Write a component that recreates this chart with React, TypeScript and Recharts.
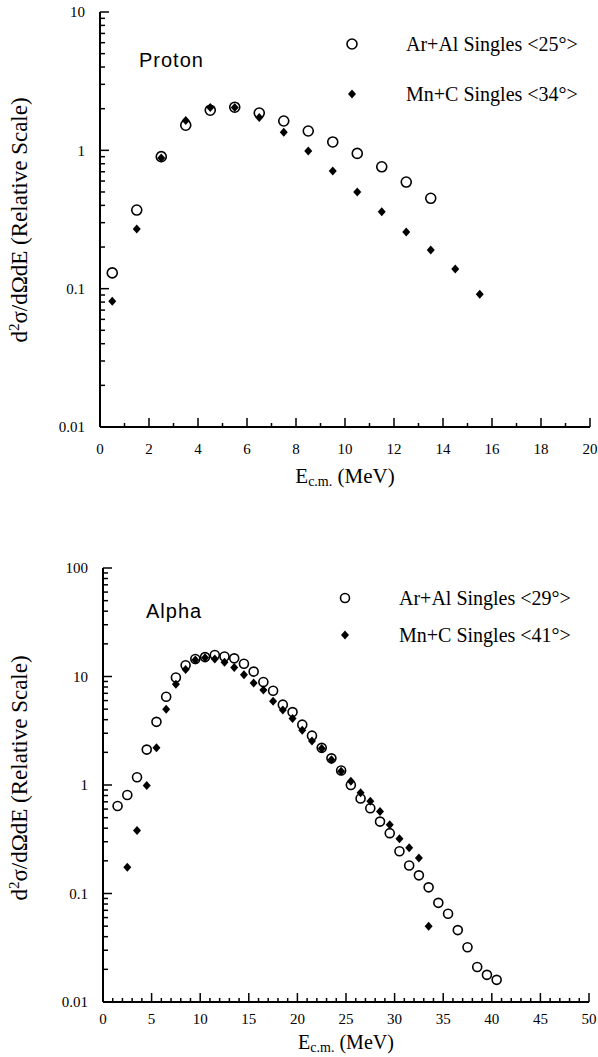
import React from 'react';
import { ScatterChart, Scatter, XAxis, YAxis } from 'recharts';

// Proton panel (top)
const protonEnergyArAl = [0.5, 1.5, 2.5, 3.5, 4.5, 5.5, 6.5, 7.5, 8.5, 9.5, 10.5, 11.5, 12.5, 13.5];
const protonArAl = [0.13, 0.37, 0.9, 1.52, 1.95, 2.05, 1.86, 1.63, 1.38, 1.15, 0.95, 0.76, 0.59, 0.45];
const protonEnergyMnC = [0.5, 1.5, 2.5, 3.5, 4.5, 5.5, 6.5, 7.5, 8.5, 9.5, 10.5, 11.5, 12.5, 13.5, 14.5, 15.5];
const protonMnC = [0.081, 0.27, 0.88, 1.64, 2.04, 2.04, 1.73, 1.35, 0.99, 0.71, 0.5, 0.36, 0.257, 0.19, 0.139, 0.091];

// Alpha panel (bottom)
const alphaEnergyArAl = [
  1.5, 2.5, 3.5, 4.5, 5.5, 6.5, 7.5, 8.5, 9.5, 10.5, 11.5, 12.5, 13.5, 14.5, 15.5, 16.5, 17.5, 18.5, 19.5, 20.5,
  21.5, 22.5, 23.5, 24.5, 25.5, 26.5, 27.5, 28.5, 29.5, 30.5, 31.5, 32.5, 33.5, 34.5, 35.5, 36.5, 37.5, 38.5, 39.5, 40.5,
];
const alphaArAl = [
  0.64, 0.81, 1.18, 2.12, 3.82, 6.5, 9.8, 12.7, 14.5, 15.1, 15.8, 15.3, 14.7, 13.1, 11.1, 8.9, 7.4, 5.5, 4.7, 3.6,
  2.85, 2.2, 1.76, 1.36, 1.0, 0.75, 0.61, 0.46, 0.36, 0.245, 0.181, 0.147, 0.114, 0.082, 0.065, 0.046, 0.032, 0.021, 0.0178, 0.016,
];
const alphaEnergyMnC = [
  2.5, 3.5, 4.5, 5.5, 6.5, 7.5, 8.5, 9.5, 10.5, 11.5, 12.5, 13.5, 14.5, 15.5, 16.5, 17.5, 18.5, 19.5, 20.5, 21.5,
  22.5, 23.5, 24.5, 25.5, 26.5, 27.5, 28.5, 29.5, 30.5, 31.5, 32.5, 33.5,
];
const alphaMnC = [
  0.175, 0.38, 0.99, 2.2, 5.0, 8.5, 11.6, 14.2, 14.9, 14.5, 13.5, 12.1, 10.4, 8.7, 7.5, 5.9, 4.9, 4.1, 3.2, 2.55,
  2.17, 1.71, 1.34, 1.08, 0.85, 0.71, 0.57, 0.43, 0.32, 0.264, 0.212, 0.05,
];

// axis ticks
const protonXTicks = [0, 1, 2, 3, 4, 5, 6, 7, 8, 9, 10, 11, 12, 13, 14, 15, 16, 17, 18, 19, 20];
const protonXLabels = [0, 2, 4, 6, 8, 10, 12, 14, 16, 18, 20];
const alphaXTicks = [
  0, 1, 2, 3, 4, 5, 6, 7, 8, 9, 10, 11, 12, 13, 14, 15, 16, 17, 18, 19, 20, 21, 22, 23, 24, 25,
  26, 27, 28, 29, 30, 31, 32, 33, 34, 35, 36, 37, 38, 39, 40, 41, 42, 43, 44, 45, 46, 47, 48, 49, 50,
];
const alphaXLabels = [0, 5, 10, 15, 20, 25, 30, 35, 40, 45, 50];
const protonDecades = [0.01, 0.1, 1, 10];
const alphaDecades = [0.01, 0.1, 1, 10, 100];
const minorSteps = [2, 3, 4, 5, 6, 7, 8, 9];

const SERIF = '"Liberation Serif", "Times New Roman", Times, serif';
const SANS = '"Liberation Sans", Arial, Helvetica, sans-serif';
const MINOR = 4;
const MAJOR = 9;
const Y_GAP = 15;

const logTicks = (decades: number[]) =>
  decades.flatMap((d, i) =>
    i < decades.length - 1 ? [d, ...minorSteps.map((m) => +(d * m).toPrecision(3))] : [d]
  );

const toPoints = (xs: number[], ys: number[]) => xs.map((e, i) => ({ e, v: ys[i] }));

const openCircle = (r: number) => (p: any) =>
  <circle cx={p.cx} cy={p.cy} r={r} fill="none" stroke="#000" strokeWidth={1.6} />;

const diamond = (w: number, h: number) => (p: any) =>
  <polygon
    points={`${p.cx},${p.cy - h / 2} ${p.cx + w / 2},${p.cy} ${p.cx},${p.cy + h / 2} ${p.cx - w / 2},${p.cy}`}
    fill="#000"
  />;

// ticks point into the plot, majors longer
const xTick = (labels: number[], side: 'bottom' | 'top', gap: number) => (p: any) => {
  const v = p.payload.value;
  const major = labels.includes(v);
  const len = major ? MAJOR : MINOR;
  if (side === 'top') {
    return <line x1={p.x} x2={p.x} y1={p.y} y2={p.y + len} stroke="#000" strokeWidth={1.5} />;
  }
  const axisY = p.y - gap;
  return (
    <g>
      <line x1={p.x} x2={p.x} y1={axisY} y2={axisY - len} stroke="#000" strokeWidth={1.5} />
      {major && (
        <text x={p.x} y={p.y} dy="0.35em" textAnchor="middle" fontFamily={SERIF} fontSize={15} fill="#000">
          {v}
        </text>
      )}
    </g>
  );
};

const yTick = (decades: number[], side: 'left' | 'right') => (p: any) => {
  const v = p.payload.value;
  const major = decades.includes(v);
  const len = major ? MAJOR : MINOR + 1;
  if (side === 'right') {
    return <line x1={p.x} x2={p.x - len} y1={p.y} y2={p.y} stroke="#000" strokeWidth={1.5} />;
  }
  const axisX = p.x + Y_GAP;
  return (
    <g>
      <line x1={axisX} x2={axisX + len} y1={p.y} y2={p.y} stroke="#000" strokeWidth={1.5} />
      {major && (
        <text x={p.x} y={p.y} dy="0.35em" textAnchor="end" fontFamily={SERIF} fontSize={15} fill="#000">
          {String(v)}
        </text>
      )}
    </g>
  );
};

const xTitle = (offset: number, size: number) => (p: any) => {
  const vb = p.viewBox;
  return (
    <text x={vb.x + vb.width / 2} y={vb.y + offset} textAnchor="middle" fontFamily={SERIF} fontSize={size} fill="#000">
      E<tspan fontSize={14} dy={3}>c.m.</tspan>
      <tspan dy={-3}> (MeV)</tspan>
    </text>
  );
};

const yTitle = (centerY: number) => () => (
  <text
    x={27}
    y={centerY}
    transform={`rotate(-90 27 ${centerY})`}
    textAnchor="middle"
    fontFamily={SERIF}
    fontSize={23}
    fill="#000"
  >
    d<tspan fontSize={15} dy={-8}>2</tspan>
    <tspan dy={8}>σ/dΩdE (Relative Scale)</tspan>
  </text>
);

interface PanelProps {
  top: number;
  height: number;
  plotLeft: number;
  plotRight: number;
  plotTop: number;
  plotBottom: number;
  labelGap: number;
  titleOffset: number;
  titleSize: number;
  titleCenterY: number;
  xMax: number;
  xTicks: number[];
  xLabels: number[];
  decades: number[];
  circles: { e: number; v: number }[];
  diamonds: { e: number; v: number }[];
  circleR: number;
  name: string;
  nameLeft: number;
  nameY: number;
  legendNames: string[];
  legendLeft: number;
  legendTop: number;
  legendRow: number;
}

const Panel: React.FC<PanelProps> = (props) => {
  const { top, height, plotLeft, plotRight, plotTop, plotBottom, decades, labelGap } = props;
  const yTicks = logTicks(decades);
  const yDomain = [decades[0], decades[decades.length - 1]];
  const xAxisH = 40;
  const axisLine = { stroke: '#000', strokeWidth: 2 };
  return (
    <div style={{ position: 'absolute', left: 0, top, width: 598, height }}>
      <ScatterChart
        width={598}
        height={height}
        margin={{ top: plotTop, right: 598 - plotRight, bottom: height - plotBottom - xAxisH, left: 0 }}
      >
        <XAxis
          xAxisId="bottom"
          dataKey="e"
          type="number"
          domain={[0, props.xMax]}
          ticks={props.xTicks}
          interval={0}
          height={xAxisH}
          stroke="#000"
          tickSize={0}
          tickMargin={labelGap}
          tickLine={false}
          axisLine={axisLine}
          tick={xTick(props.xLabels, 'bottom', labelGap)}
          label={xTitle(props.titleOffset, props.titleSize)}
        />
        <XAxis
          xAxisId="top"
          orientation="top"
          dataKey="e"
          type="number"
          domain={[0, props.xMax]}
          ticks={props.xTicks}
          interval={0}
          height={0}
          stroke="#000"
          tickSize={0}
          tickMargin={0}
          tickLine={false}
          axisLine={axisLine}
          tick={xTick(props.xLabels, 'top', 0)}
        />
        <YAxis
          yAxisId="left"
          dataKey="v"
          type="number"
          scale="log"
          domain={yDomain}
          allowDataOverflow
          ticks={yTicks}
          interval={0}
          width={plotLeft}
          stroke="#000"
          tickSize={0}
          tickMargin={Y_GAP}
          tickLine={false}
          axisLine={axisLine}
          tick={yTick(decades, 'left')}
          label={yTitle(props.titleCenterY)}
        />
        <YAxis
          yAxisId="right"
          orientation="right"
          dataKey="v"
          type="number"
          scale="log"
          domain={yDomain}
          allowDataOverflow
          ticks={yTicks}
          interval={0}
          width={0}
          stroke="#000"
          tickSize={0}
          tickMargin={0}
          tickLine={false}
          axisLine={axisLine}
          tick={yTick(decades, 'right')}
        />
        <Scatter
          xAxisId="top"
          yAxisId="right"
          data={props.circles}
          shape={() => <g />}
          legendType="none"
          isAnimationActive={false}
        />
        <Scatter
          name={props.legendNames[0]}
          xAxisId="bottom"
          yAxisId="left"
          data={props.circles}
          shape={openCircle(props.circleR)}
          isAnimationActive={false}
        />
        <Scatter
          name={props.legendNames[1]}
          xAxisId="bottom"
          yAxisId="left"
          data={props.diamonds}
          shape={diamond(8, 9)}
          isAnimationActive={false}
        />
      </ScatterChart>

      <div
        style={{
          position: 'absolute',
          left: props.nameLeft,
          top: props.nameY - 12,
          height: 24,
          lineHeight: '24px',
          fontFamily: SANS,
          fontSize: 20,
          letterSpacing: 1,
          color: '#000',
        }}
      >
        {props.name}
      </div>

      <div style={{ position: 'absolute', left: props.legendLeft, top: props.legendTop, fontFamily: SERIF, fontSize: 20 }}>
        {props.legendNames.map((label, i) => (
          <div key={label} style={{ height: props.legendRow, display: 'flex', alignItems: 'center' }}>
            <svg width={14} height={14}>
              {i === 0 ? (
                <circle cx={7} cy={7} r={props.circleR} fill="none" stroke="#000" strokeWidth={1.6} />
              ) : (
                <polygon points="7,2.5 11,7 7,11.5 3,7" fill="#000" />
              )}
            </svg>
            <span style={{ marginLeft: 47, whiteSpace: 'nowrap' }}>{label}</span>
          </div>
        ))}
      </div>
    </div>
  );
};

export default function App() {
  return (
    <div style={{ position: 'absolute', left: 0, top: 0, width: 598, height: 1057, background: '#fff' }}>
      <Panel
        top={0}
        height={490}
        plotLeft={100}
        plotRight={590}
        plotTop={12}
        plotBottom={427}
        labelGap={22}
        titleOffset={56}
        titleSize={21}
        titleCenterY={220}
        xMax={20}
        xTicks={protonXTicks}
        xLabels={protonXLabels}
        decades={protonDecades}
        circles={toPoints(protonEnergyArAl, protonArAl)}
        diamonds={toPoints(protonEnergyMnC, protonMnC)}
        circleR={5}
        name="Proton"
        nameLeft={139}
        nameY={60}
        legendNames={['Ar+Al Singles <25°>', 'Mn+C Singles <34°>']}
        legendLeft={345}
        legendTop={19}
        legendRow={50}
      />
      <Panel
        top={540}
        height={517}
        plotLeft={103}
        plotRight={589}
        plotTop={28}
        plotBottom={462}
        labelGap={17}
        titleOffset={47}
        titleSize={20}
        titleCenterY={238}
        xMax={50}
        xTicks={alphaXTicks}
        xLabels={alphaXLabels}
        decades={alphaDecades}
        circles={toPoints(alphaEnergyArAl, alphaArAl)}
        diamonds={toPoints(alphaEnergyMnC, alphaMnC)}
        circleR={4.5}
        name="Alpha"
        nameLeft={146}
        nameY={71}
        legendNames={['Ar+Al Singles <29°>', 'Mn+C Singles <41°>']}
        legendLeft={338}
        legendTop={39.5}
        legendRow={37}
      />
    </div>
  );
}
